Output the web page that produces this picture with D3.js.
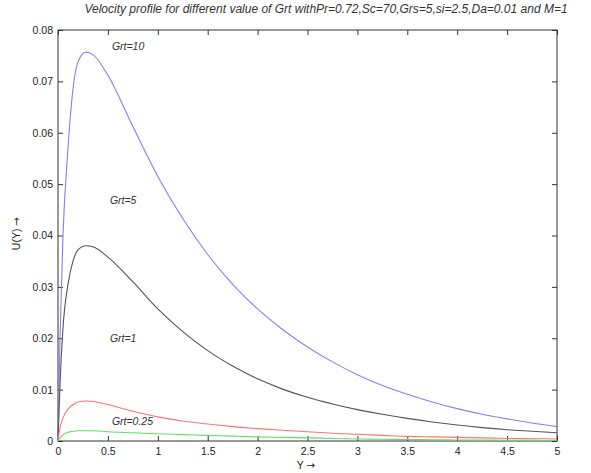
<!DOCTYPE html>
<html>
<head>
<meta charset="utf-8">
<script src="https://cdn.jsdelivr.net/npm/d3@7"></script>
<style>
  body { margin: 0; background: #fff; }
  text { font-family: "Liberation Sans", Arial, sans-serif; }
</style>
</head>
<body>
<div id="chart"></div>
<script>
// Y positions sampled along the plate
const yPos = [0, 0.02, 0.05, 0.1, 0.15, 0.2, 0.28, 0.35, 0.5, 0.75, 1, 1.25, 1.5, 1.75, 2, 2.25, 2.5, 2.75, 3, 3.25, 3.5, 3.75, 4, 4.25, 4.5, 4.75, 5];

// velocity U(Y) for each Grt value
const uGrt10 = [0, 0.02, 0.04, 0.057, 0.0685, 0.0738, 0.0757, 0.0752, 0.0712, 0.0612, 0.0515, 0.0433, 0.0363, 0.0305, 0.0257, 0.0217, 0.0183, 0.0154, 0.0129, 0.0108, 0.0091, 0.0076, 0.0063, 0.0052, 0.0043, 0.0035, 0.0028];
const uGrt5 = [0, 0.011, 0.022, 0.0305, 0.035, 0.0372, 0.038, 0.0378, 0.0358, 0.031, 0.0257, 0.0213, 0.0176, 0.0146, 0.0121, 0.0101, 0.0085, 0.0072, 0.0061, 0.0052, 0.0044, 0.0037, 0.0031, 0.0026, 0.0022, 0.0019, 0.0016];
const uGrt1 = [0, 0.0025, 0.0045, 0.0062, 0.0071, 0.0076, 0.0078, 0.0077, 0.0071, 0.0058, 0.0047, 0.0039, 0.0033, 0.0028, 0.0024, 0.0021, 0.0018, 0.0015, 0.0013, 0.0011, 0.0009, 0.0008, 0.0007, 0.0006, 0.0005, 0.00045, 0.0004];
const uGrt025 = [0, 0.0006, 0.0012, 0.0017, 0.0019, 0.002, 0.002, 0.002, 0.0018, 0.0016, 0.0014, 0.00125, 0.0011, 0.00095, 0.0008, 0.0007, 0.0006, 0.0005, 0.0004, 0.00035, 0.0003, 0.00025, 0.0002, 0.00018, 0.00015, 0.00012, 0.0001];

const xTicks = [0, 0.5, 1, 1.5, 2, 2.5, 3, 3.5, 4, 4.5, 5];
const yTicks = [0, 0.01, 0.02, 0.03, 0.04, 0.05, 0.06, 0.07, 0.08];

const curveLabels = ['Grt=10', 'Grt=5', 'Grt=1', 'Grt=0.25'];
const curveColors = ['#8080ff', '#555555', '#ff7474', '#66dd66'];
// label anchor in data units (Y, U)
const labelAt = [[0.54, 0.0762], [0.52, 0.0462], [0.52, 0.0192], [0.54, 0.0032]];

const W = 591, H = 473;
const margin = { top: 30, right: 34, bottom: 32, left: 58 };
const width = W - margin.left - margin.right;
const height = H - margin.top - margin.bottom;

const svg = d3.select('#chart')
  .append('svg')
  .attr('width', W)
  .attr('height', H);

const g = svg.append('g')
  .attr('transform', `translate(${margin.left},${margin.top})`);

const x = d3.scaleLinear().domain([0, 5]).range([0, width]);
const y = d3.scaleLinear().domain([0, 0.08]).range([height, 0]);

const fmt = d => (d === 0 ? '0' : String(+d.toFixed(2)));

// axes, matlab-ish inward ticks
const axColor = '#333';
const styleAxis = sel => {
  sel.select('.domain').remove();
  sel.selectAll('.tick line').attr('stroke', axColor);
  sel.selectAll('.tick text').attr('fill', '#222').style('font-size', '10.5px');
};

g.append('g')
  .attr('transform', `translate(0,${height})`)
  .call(d3.axisBottom(x).tickValues(xTicks).tickFormat(fmt).tickSizeInner(-5).tickSizeOuter(0).tickPadding(7))
  .call(styleAxis);

g.append('g')
  .call(d3.axisTop(x).tickValues(xTicks).tickFormat('').tickSizeInner(-5).tickSizeOuter(0))
  .call(styleAxis);

g.append('g')
  .call(d3.axisLeft(y).tickValues(yTicks).tickFormat(fmt).tickSizeInner(-5).tickSizeOuter(0).tickPadding(5))
  .call(styleAxis);

g.append('g')
  .attr('transform', `translate(${width},0)`)
  .call(d3.axisRight(y).tickValues(yTicks).tickFormat('').tickSizeInner(-5).tickSizeOuter(0))
  .call(styleAxis);

// frame
g.append('rect')
  .attr('width', width)
  .attr('height', height)
  .attr('fill', 'none')
  .attr('stroke', axColor)
  .attr('stroke-width', 1);

// curves
const series = [uGrt10, uGrt5, uGrt1, uGrt025];
const line = d3.line()
  .x((d, i) => x(yPos[i]))
  .y(d => y(d))
  .curve(d3.curveMonotoneX);

g.selectAll('.curve')
  .data(series)
  .enter()
  .append('path')
  .attr('class', 'curve')
  .attr('d', d => line(d))
  .attr('fill', 'none')
  .attr('stroke', (d, i) => curveColors[i])
  .attr('stroke-width', 1.1);

g.selectAll('.clabel')
  .data(curveLabels)
  .enter()
  .append('text')
  .attr('class', 'clabel')
  .attr('x', (d, i) => x(labelAt[i][0]))
  .attr('y', (d, i) => y(labelAt[i][1]))
  .attr('fill', '#333')
  .style('font-size', '10.5px')
  .style('font-style', 'italic')
  .text(d => d);

// title and axis labels
svg.append('text')
  .attr('x', 326)
  .attr('y', 13)
  .attr('text-anchor', 'middle')
  .attr('fill', '#333')
  .style('font-size', '12px')
  .style('font-style', 'italic')
  .text('Velocity profile for different value of Grt withPr=0.72,Sc=70,Grs=5,si=2.5,Da=0.01 and M=1');

const xl = svg.append('text')
  .attr('x', 306)
  .attr('y', 469)
  .attr('text-anchor', 'middle')
  .attr('fill', '#222')
  .style('font-size', '10.5px');
xl.append('tspan').text('Y ');
xl.append('tspan').style('font-family', '"DejaVu Sans"').text('\u2192');

const yl = svg.append('text')
  .attr('transform', `translate(20,${margin.top + height / 2 - 2}) rotate(-90)`)
  .attr('text-anchor', 'middle')
  .attr('fill', '#222')
  .style('font-size', '10.5px');
yl.append('tspan').text('U(Y) ');
yl.append('tspan').style('font-family', '"DejaVu Sans"').text('\u2192');
</script>
</body>
</html>
